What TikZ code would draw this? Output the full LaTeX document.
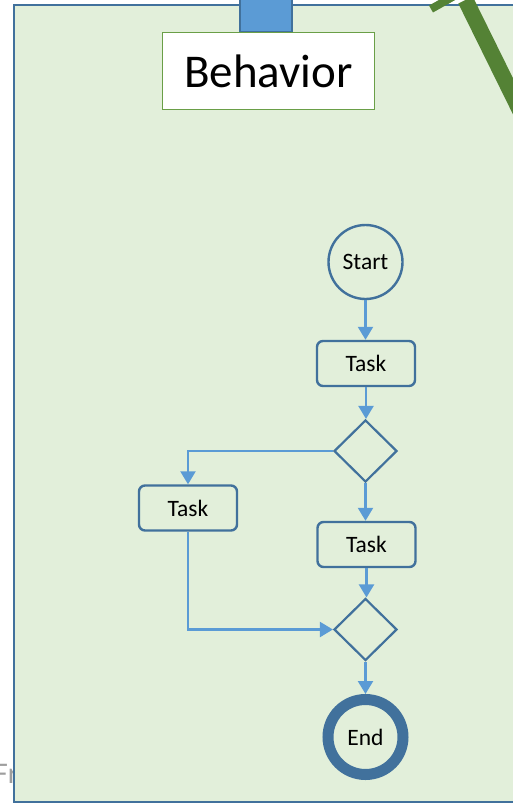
\documentclass[tikz,border=0pt]{standalone}
\usepackage{fontspec}
\setmainfont{Carlito}
\usetikzlibrary{arrows.meta,shapes.geometric}
\definecolor{bgreen}{HTML}{E2EFDA}
\definecolor{nodeblue}{HTML}{41719C}
\definecolor{arrblue}{HTML}{5B9BD5}
\definecolor{lgreen}{HTML}{548235}
\definecolor{boxgreen}{HTML}{6A9F47}
\tikzset{
  flowtext/.style={font=\fontsize{23.5}{28}\selectfont},
  taskbox/.style={flowtext, draw=nodeblue, line width=2.4pt, rounded corners=6pt, minimum width=98pt, minimum height=45pt, inner sep=0pt},
  decision/.style={draw=nodeblue, line width=2.2pt, diamond, minimum width=63pt, minimum height=62pt, inner sep=0pt},
  startnode/.style={flowtext, draw=nodeblue, line width=2.4pt, circle, minimum size=74pt, inner sep=0pt},
  endnode/.style={flowtext, draw=nodeblue, line width=11pt, circle, minimum size=75pt, inner sep=0pt},
  flow/.style={draw=arrblue, line width=2.3pt, -{Triangle[width=15pt,length=13pt]}},
}
\begin{document}
\begin{tikzpicture}[x=1pt,y=-1pt]
\useasboundingbox (0,0) rectangle (513,803);
\clip (0,0) rectangle (513,803);
% partially hidden text
\node[anchor=base west, text=black!38, font=\fontsize{30}{36}\selectfont, inner sep=0pt] (fr) at (-6,783) {Fr};
% frame
\draw[fill=bgreen, draw=nodeblue, line width=2.4pt] (13.7,5) rectangle (540,801.7);
% blue tab
\draw[fill=arrblue, draw=nodeblue, line width=2pt] (240,-5) rectangle (292,32);
% behavior label
\node[draw=boxgreen, fill=white, line width=1.6pt, minimum width=212pt, minimum height=77pt, inner sep=0pt, font=\fontsize{47}{54}\selectfont] (beh) at (268.5,71) {Behavior};
% flow nodes
\node[startnode] (start) at (365.5,262) {Start};
\node[taskbox] (t1) at (366,363.5) {Task};
\node[decision] (d1) at (365.5,451) {};
\node[taskbox] (tl) at (188,508) {Task};
\node[taskbox] (t2) at (366.5,544.5) {Task};
\node[decision] (d2) at (365.5,629.5) {};
\node[endnode] (end) at (365.5,737) {End};
% connectors
\draw[flow] (start.south) -- (start.south |- t1.north);
\draw[flow] (t1.south) -- (t1.south |- d1.north);
\draw[flow] (d1.west) -| (tl.north);
\draw[flow] (d1.south) -- (d1.south |- t2.north);
\draw[flow] (t2.south) -- (t2.south |- d2.north);
\draw[flow] (tl.south) |- (d2.west);
\draw[flow] (d2.south) -- (end.north);
% green strokes at top right
\coordinate (ga) at (465.5,0);
\coordinate (gb) at (540,151);
\coordinate (gc) at (431,9);
\coordinate (gd) at (472,-14);
\draw[lgreen, line width=16pt] (ga) -- (gb);
\draw[lgreen, line width=8pt] (gc) -- (gd);
\end{tikzpicture}
\end{document}
